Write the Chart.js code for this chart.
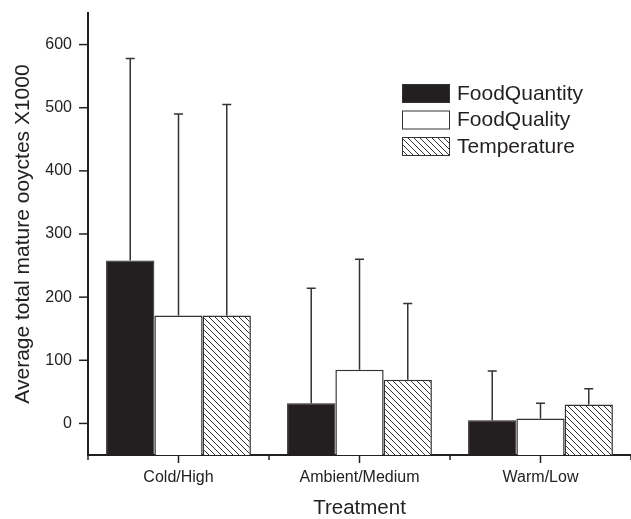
<!DOCTYPE html>
<html>
<head>
<meta charset="utf-8">
<script src="https://cdn.jsdelivr.net/npm/chart.js@4.4.1/dist/chart.umd.min.js"></script>
<style>
  html, body { margin: 0; padding: 0; background: #fff; }
  #wrap { width: 631px; height: 519px; position: relative; }
</style>
</head>
<body>
<div id="wrap"><canvas id="oocyteChart"></canvas></div>
<script>
// values (thousands of oocytes), error = upper error bar length
const categories = ['Cold/High', 'Ambient/Medium', 'Warm/Low'];
const seriesNames = ['FoodQuantity', 'FoodQuality', 'Temperature'];
const foodQuantity = [258, 32, 5];
const foodQuantityErr = [320, 182, 78];
const foodQuality = [171, 85, 8];
const foodQualityErr = [319, 175, 24];
const temperature = [171, 69, 30];
const temperatureErr = [334, 121, 25];
const yTickLabels = [0, 100, 200, 300, 400, 500, 600];

const FONT = '"Liberation Sans", Arial, Helvetica, sans-serif';
const INK = '#231f20';
const LINE = '#333333';

// diagonal hatching (top-left to bottom-right)
function makeHatch() {
    const s = 6;
    const c = document.createElement('canvas');
    c.width = s; c.height = s;
    const g = c.getContext('2d');
    g.fillStyle = '#ffffff';
    g.fillRect(0, 0, s, s);
    g.strokeStyle = LINE;
    g.lineWidth = 1;
    g.beginPath();
    g.moveTo(0, 0); g.lineTo(s, s);
    g.moveTo(-1, s - 1); g.lineTo(1, s + 1);
    g.moveTo(s - 1, -1); g.lineTo(s + 1, 1);
    g.stroke();
    return g.createPattern(c, 'repeat');
}

const canvas = document.getElementById('oocyteChart');
const hatch = makeHatch();

const decorPlugin = {
    id: 'decor',
    afterDatasetsDraw(chart) {
        const ctx = chart.ctx;
        const y = chart.scales.y;
        ctx.save();
        ctx.strokeStyle = LINE;
        ctx.lineWidth = 1.5;
        chart.data.datasets.forEach((ds, i) => {
            const meta = chart.getDatasetMeta(i);
            meta.data.forEach((bar, j) => {
                const top = y.getPixelForValue(ds.data[j] + ds.errors[j]);
                ctx.beginPath();
                ctx.moveTo(bar.x, bar.y);
                ctx.lineTo(bar.x, top);
                ctx.moveTo(bar.x - 4.5, top);
                ctx.lineTo(bar.x + 4.5, top);
                ctx.stroke();
            });
        });
        ctx.restore();
    },
    afterDraw(chart) {
        const ctx = chart.ctx;
        const area = chart.chartArea;
        const x = chart.scales.x;
        const y = chart.scales.y;
        ctx.save();
        ctx.strokeStyle = INK;
        ctx.lineWidth = 1.5;

        // y ticks: long on hundreds, short on fifties
        y.ticks.forEach(t => {
            const py = y.getPixelForValue(t.value);
            const len = t.value % 100 === 0 ? 9 : 5;
            ctx.beginPath();
            ctx.moveTo(area.left - len, py);
            ctx.lineTo(area.left, py);
            ctx.stroke();
        });

        // x ticks: short at boundaries, longer at category centres
        for (let i = 0; i <= categories.length; i++) {
            const px = x.getPixelForValue(i - 0.5);
            ctx.beginPath();
            ctx.moveTo(px, area.bottom);
            ctx.lineTo(px, area.bottom + 5);
            ctx.stroke();
        }
        categories.forEach((c, i) => {
            const px = x.getPixelForValue(i);
            ctx.beginPath();
            ctx.moveTo(px, area.bottom);
            ctx.lineTo(px, area.bottom + 8);
            ctx.stroke();
        });

        // legend inside the plot
        const lx = area.left + 314;
        let ly = area.top + 71;
        ctx.font = '21px ' + FONT;
        ctx.textBaseline = 'middle';
        ctx.textAlign = 'left';
        chart.data.datasets.forEach(ds => {
            ctx.fillStyle = ds.backgroundColor;
            ctx.fillRect(lx, ly, 48, 19);
            ctx.lineWidth = 1;
            ctx.strokeStyle = LINE;
            ctx.strokeRect(lx + 0.5, ly + 0.5, 47, 18);
            ctx.fillStyle = INK;
            ctx.fillText(ds.label, lx + 55, ly + 10);
            ly += 26.5;
        });
        ctx.restore();
    }
};

const chart = new Chart(canvas, {
    type: 'bar',
    data: {
        labels: categories,
        datasets: [
            { label: seriesNames[0], data: foodQuantity, errors: foodQuantityErr,
              backgroundColor: INK, borderColor: INK, borderWidth: 1 },
            { label: seriesNames[1], data: foodQuality, errors: foodQualityErr,
              backgroundColor: '#ffffff', borderColor: LINE, borderWidth: 1.5 },
            { label: seriesNames[2], data: temperature, errors: temperatureErr,
              backgroundColor: hatch, borderColor: LINE, borderWidth: 1.5 }
        ]
    },
    options: {
        responsive: true,
        maintainAspectRatio: false,
        animation: false,
        devicePixelRatio: 1,
        layout: { padding: { top: 13, right: 0, left: 0, bottom: 0 } },
        datasets: { bar: { base: -50, categoryPercentage: 0.8, barPercentage: 1.0, borderSkipped: 'bottom' } },
        plugins: {
            legend: { display: false },
            tooltip: { enabled: false }
        },
        scales: {
            x: {
                offset: true,
                grid: { display: false, drawTicks: false },
                border: { display: true, color: INK, width: 2 },
                ticks: { color: '#222', padding: 13, font: { family: FONT, size: 16 } },
                title: { display: true, text: 'Treatment', color: '#222', padding: { top: 0, bottom: -2 },
                         font: { family: FONT, size: 20.5 } },
                afterFit: s => { s.height = 64; }
            },
            y: {
                min: -50,
                max: 650,
                grid: { display: false, drawTicks: true, tickLength: 16 },
                border: { display: true, color: INK, width: 2 },
                ticks: {
                    stepSize: 50,
                    padding: 0,
                    color: '#222',
                    font: { family: FONT, size: 16 },
                    callback: v => yTickLabels.includes(v) ? String(v) : null
                },
                title: { display: true, text: 'Average total mature ooyctes X1000', color: '#222',
                         padding: { top: 11, bottom: 0 }, font: { family: FONT, size: 21 } },
                afterFit: s => { s.width = 88; }
            }
        }
    },
    plugins: [decorPlugin]
});
</script>
</body>
</html>
